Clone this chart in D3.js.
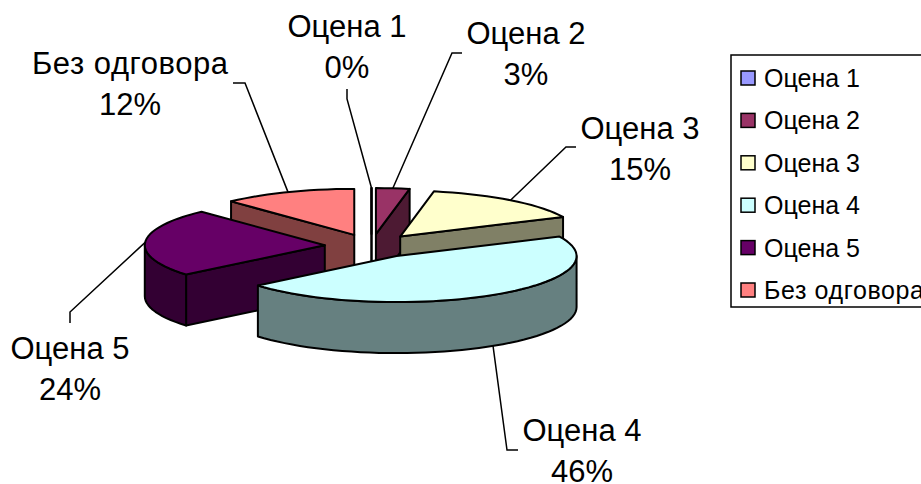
<!DOCTYPE html>
<html>
<head>
<meta charset="utf-8">
<script src="https://cdn.jsdelivr.net/npm/d3@7"></script>
<style>
  html, body { margin: 0; padding: 0; background: #fff; overflow: hidden; }
  text { font-family: 'Liberation Sans', Arial, sans-serif; fill: #000; }
</style>
</head>
<body>
<div id="chart"></div>
<script>
// DATA
var categories = ['Оцена 1', 'Оцена 2', 'Оцена 3', 'Оцена 4', 'Оцена 5', 'Без одговора']
var percents = [0, 3, 15, 46, 24, 12]
var colours = ['#9999FF', '#993366', '#FFFFCC', '#CCFFFF', '#660066', '#FF8080']

// LAYOUT
var width = 921
var height = 484
var pie3d = {cx: 371.5, cy: 246, rx: 180, ry: 46, depth: 51, explode: 0.26}
var labelLayout = [
  {x: 347, y: 37, line: [[347, 89], [347, 99]]},
  {x: 526, y: 44, line: [[462, 53], [452, 53]]},
  {x: 640, y: 139, line: [[576, 147], [566, 147]]},
  {x: 582, y: 441, line: [[518, 450], [507, 450]]},
  {x: 70, y: 359, line: [[70, 323], [70, 312]]},
  {x: 130, y: 74, length: 196, line: [[233, 83], [245, 83]]}
]
var legendBox = {x: 731, y: 55, width: 240, height: 252}

var svg = d3.select('#chart').append('svg')
  .attr('width', width)
  .attr('height', height)

// HELPERS

var xMap = d3.scaleLinear().domain([-1, 1]).range([pie3d.cx - pie3d.rx, pie3d.cx + pie3d.rx])
var yMap = d3.scaleLinear().domain([-1, 1]).range([pie3d.cy + pie3d.ry, pie3d.cy - pie3d.ry])

var line = d3.line()

function darken(c) {
  var rgb = d3.rgb(c)
  return d3.rgb(rgb.r / 2, rgb.g / 2, rgb.b / 2).formatHex()
}

// point at angle a and radius r of a slice, before dropping by z
function project(d, a, r, z) {
  var ux = d.explode * Math.sin(d.mid) + r * Math.sin(a)
  var uy = d.explode * Math.cos(d.mid) + r * Math.cos(a)
  return [xMap(ux), yMap(uy) + (z || 0)]
}

function rimPoints(d, a0, a1, z) {
  var pts = []
  var n = Math.max(1, Math.ceil((a1 - a0) / (3 * Math.PI / 180)))
  for (var i = 0; i <= n; i++) {
    pts.push(project(d, a0 + (a1 - a0) * i / n, 1, z))
  }
  return pts
}

function drawPoly(g, pts, fill) {
  g.append('path')
    .attr('d', line(pts) + 'Z')
    .style('fill', fill)
    .style('stroke', '#000')
    .style('stroke-width', 2)
    .style('stroke-linejoin', 'round')
}

function drawRadialWall(g, d, a, fill) {
  drawPoly(g, [project(d, 0, 0), project(d, a, 1), project(d, a, 1, pie3d.depth), project(d, 0, 0, pie3d.depth)], fill)
}

// FUNCTION

function drawSlice(d) {
  var g = svg.append('g')
  var side = darken(d.colour)

  // walls turned to the viewer, top face goes last
  if (d.value === 0 || Math.sin(d.startAngle) < -1e-6) drawRadialWall(g, d, d.startAngle, side)
  if (d.value === 0 || Math.sin(d.endAngle) > 1e-6) drawRadialWall(g, d, d.endAngle, side)

  var a0 = Math.max(d.startAngle, Math.PI / 2)
  var a1 = Math.min(d.endAngle, 3 * Math.PI / 2)
  if (a1 > a0) {
    var pts = rimPoints(d, a0, a1, 0).concat(rimPoints(d, a0, a1, pie3d.depth).reverse())
    drawPoly(g, pts, side)
  }

  drawPoly(g, [project(d, 0, 0)].concat(rimPoints(d, d.startAngle, d.endAngle, 0)), d.colour)
}

function drawLabels(slices) {
  slices.forEach(function(d, i) {
    var layout = labelLayout[i]
    var front = Math.cos(d.mid) < 0
    var end = project(d, d.mid, 1, front ? pie3d.depth : 0)

    svg.append('path')
      .attr('d', line(layout.line.concat([end])))
      .style('fill', 'none')
      .style('stroke', '#000')
      .style('stroke-width', 1.5)

    var name = svg.append('text')
      .attr('x', layout.x)
      .attr('y', layout.y)
      .style('text-anchor', 'middle')
      .style('font-size', '31px')
      .text(categories[i])

    if (layout.length) name.attr('textLength', layout.length)

    svg.append('text')
      .attr('x', layout.x)
      .attr('y', layout.y + 41)
      .style('text-anchor', 'middle')
      .style('font-size', '31px')
      .text(percents[i] + '%')
  })
}

function drawLegend() {
  var gLegend = svg.append('g')

  gLegend.append('rect')
    .attr('x', legendBox.x)
    .attr('y', legendBox.y)
    .attr('width', legendBox.width)
    .attr('height', legendBox.height)
    .style('fill', '#fff')
    .style('stroke', '#000')
    .style('stroke-width', 1.5)

  var yLegend = d3.scalePoint()
    .domain(categories)
    .range([78, 290])

  var item = gLegend.selectAll('.item')
    .data(categories)
    .enter().append('g')

  item.append('rect')
    .attr('x', 741)
    .attr('y', d => yLegend(d) - 7)
    .attr('width', 14)
    .attr('height', 14)
    .style('fill', (d, i) => colours[i])
    .style('stroke', '#000')
    .style('stroke-width', 1.5)

  item.append('text')
    .attr('x', 764)
    .attr('y', d => yLegend(d) + 9)
    .style('font-size', '25px')
    .attr('textLength', d => d === 'Без одговора' ? 160 : null)
    .text(d => d)
}

// MAIN
var slices = d3.pie().sort(null)(percents).map(function(d, i) {
  d.colour = colours[i]
  d.mid = (d.startAngle + d.endAngle) / 2
  d.explode = pie3d.explode
  return d
})

// back slices first
slices.slice()
  .sort((a, b) => Math.cos(b.mid) - Math.cos(a.mid))
  .forEach(drawSlice)

drawLabels(slices)
drawLegend()
</script>
</body>
</html>
